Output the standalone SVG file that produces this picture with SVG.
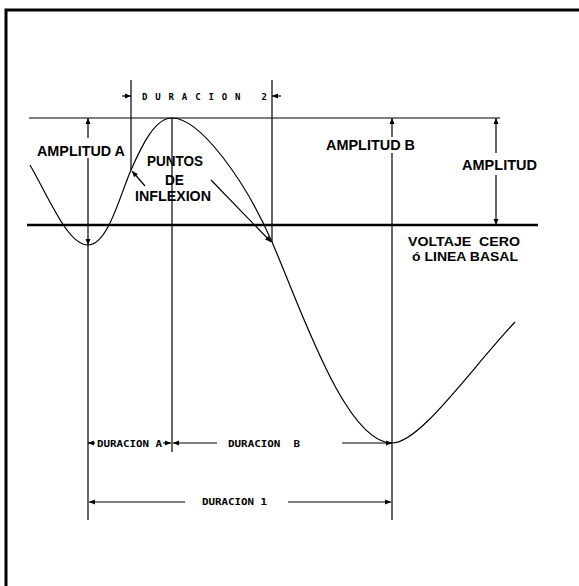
<svg xmlns="http://www.w3.org/2000/svg" width="579" height="586" viewBox="0 0 579 586">
<style>
.ln{stroke:#000;stroke-width:1.2;fill:none}
.base{stroke:#000;stroke-width:2.5;fill:none}
.ar{marker-end:url(#ah)}
.lbl{font-family:"Liberation Sans",Arial,sans-serif;font-weight:bold;font-size:14px;fill:#000}
.sm{font-size:12.5px}
.dur{font-family:"DejaVu Sans Mono","Liberation Mono",monospace;font-weight:bold;font-size:9px;fill:#000}
</style>
<defs>
<marker id="ah" markerUnits="userSpaceOnUse" markerWidth="7" markerHeight="6" refX="6" refY="2.5" orient="auto" overflow="visible">
<path d="M0,0 L6,2.5 L0,5 Z" fill="#000"/>
</marker>
</defs>
<rect width="579" height="586" fill="#fff"/>
<path d="M6,592 V10 H590" fill="none" stroke="#000" stroke-width="3"/>
<g id="connectors">
<line class="ln" x1="29" y1="118" x2="500" y2="118"/>
<line class="base" x1="27" y1="225" x2="538" y2="225"/>
<path class="ln" d="M30,165 C50,200 68,245 88,245 C108,245 120,195 131,170 C142,145 155,118 172,118 C200,118 245,180 272,242 C300,306 345,443 392,443 C420,443 470,370 515,322"/>
<line class="ln ar" x1="88" y1="138" x2="88" y2="118"/>
<line class="ln ar" x1="88" y1="158" x2="88" y2="245"/>
<line class="ln" x1="88" y1="245" x2="88" y2="520"/>
<line class="ln ar" x1="392" y1="137" x2="392" y2="118"/>
<line class="ln" x1="392" y1="153" x2="392" y2="520"/>
<line class="ln ar" x1="496" y1="153" x2="496" y2="118"/>
<line class="ln ar" x1="496" y1="175" x2="496" y2="225"/>
<line class="ln" x1="131" y1="80" x2="131" y2="170"/>
<line class="ln" x1="272" y1="80" x2="272" y2="242"/>
<line class="ln ar" x1="122" y1="96" x2="131" y2="96"/>
<line class="ln ar" x1="281" y1="96" x2="272" y2="96"/>
<line class="ln" x1="172" y1="118" x2="172" y2="452"/>
<line class="ln ar" x1="95" y1="443" x2="88" y2="443"/>
<line class="ln ar" x1="163" y1="443" x2="171" y2="443"/>
<line class="ln ar" x1="217" y1="443" x2="173" y2="443"/>
<line class="ln ar" x1="342" y1="443" x2="392" y2="443"/>
<line class="ln ar" x1="185" y1="502" x2="89" y2="502"/>
<line class="ln ar" x1="288" y1="502" x2="391" y2="502"/>
<line class="ln ar" x1="145" y1="186" x2="132" y2="171"/>
<line class="ln ar" x1="211" y1="180" x2="271" y2="242"/>
</g>
<g id="amplitud-a"><text class="lbl" x="37" y="156" textLength="88" lengthAdjust="spacingAndGlyphs">AMPLITUD A</text></g>
<g id="amplitud-b"><text class="lbl" x="326" y="150" textLength="89" lengthAdjust="spacingAndGlyphs">AMPLITUD B</text></g>
<g id="amplitud"><text class="lbl" x="462" y="170" textLength="75" lengthAdjust="spacingAndGlyphs">AMPLITUD</text></g>
<g id="puntos-inflexion">
<text class="lbl" x="147" y="166" textLength="56" lengthAdjust="spacingAndGlyphs">PUNTOS</text>
<text class="lbl" x="165" y="185" textLength="19" lengthAdjust="spacingAndGlyphs">DE</text>
<text class="lbl" x="135" y="201" textLength="76" lengthAdjust="spacingAndGlyphs">INFLEXION</text>
</g>
<g id="voltaje-cero">
<text class="lbl sm" x="408" y="246" textLength="112" lengthAdjust="spacingAndGlyphs" xml:space="preserve">VOLTAJE  CERO</text>
<text class="lbl sm" x="412" y="261" textLength="106" lengthAdjust="spacingAndGlyphs">ó LINEA BASAL</text>
</g>
<g id="duracion-2"><text class="dur" x="142" y="100" textLength="125" lengthAdjust="spacing">DURACION 2</text></g>
<g id="duracion-a"><text class="dur" x="97" y="447" textLength="65" lengthAdjust="spacingAndGlyphs">DURACION A</text></g>
<g id="duracion-b"><text class="dur" x="228" y="447" textLength="72" lengthAdjust="spacingAndGlyphs" xml:space="preserve">DURACION  B</text></g>
<g id="duracion-1"><text class="dur" x="202" y="505" textLength="65" lengthAdjust="spacingAndGlyphs">DURACION 1</text></g>
</svg>
